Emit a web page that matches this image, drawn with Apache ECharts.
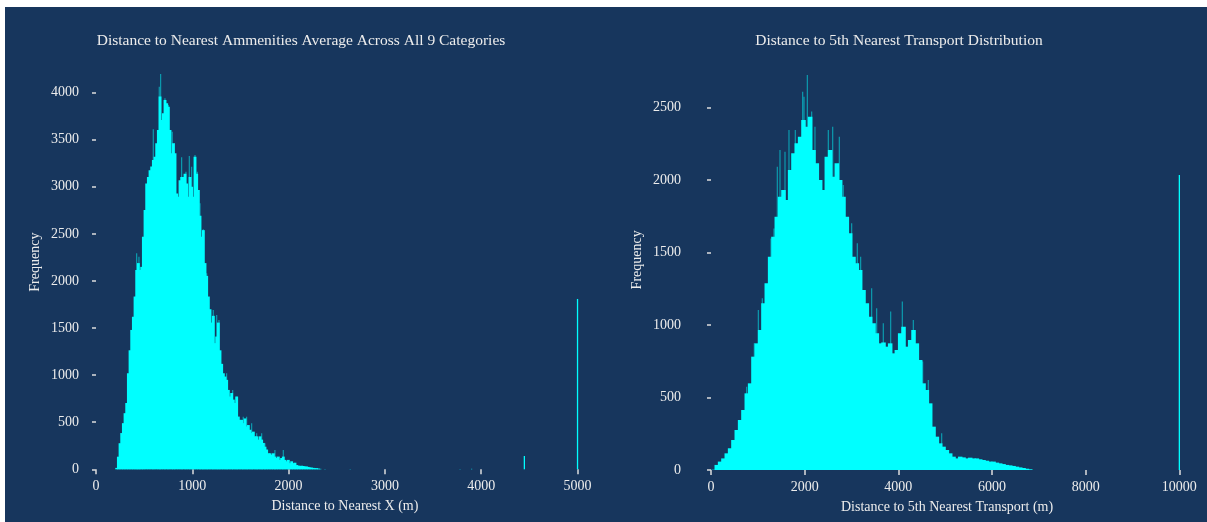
<!DOCTYPE html>
<html><head><meta charset="utf-8">
<script src="https://cdn.jsdelivr.net/npm/echarts@6/dist/echarts.min.js"></script>
<style>html,body{margin:0;padding:0;background:#fff;}#c{width:1207px;height:522px;}</style>
</head><body><div id="c"></div>
<script>
// ---- text ----
const leftTitle = 'Distance to Nearest Ammenities Average Across All 9 Categories';
const rightTitle = 'Distance to 5th Nearest Transport Distribution';
const leftXName = 'Distance to Nearest X (m)';
const rightXName = 'Distance to 5th Nearest Transport (m)';
const yName = 'Frequency';
// ---- ticks ----
const leftXTicks = [0, 1000, 2000, 3000, 4000, 5000];
const leftYTicks = [0, 500, 1000, 1500, 2000, 2500, 3000, 3500, 4000];
const rightXTicks = [0, 2000, 4000, 6000, 8000, 10000];
const rightYTicks = [0, 500, 1000, 1500, 2000, 2500];
// ---- left histogram (bin centers start at leftBinStart, equal width) ----
const leftBinStart = 214;
const leftBinWidth = 17.3;
const leftCounts = [15,134,277,385,490,596,704,1020,1264,1480,1620,1835,2117,2190,2117,2150,2470,2754,3035,3105,
  3176,3215,3284,3320,3462,3604,3958,3710,3781,3922,3887,3851,3604,3356,3462,3356,2930,2895,3070,3105,
  3105,3140,3035,2895,3105,3000,2895,3320,3140,2965,2693,2470,2540,2190,2054,1835,1700,1558,1630,1340,
  1410,1558,1264,1120,1020,985,950,843,773,810,740,704,773,560,525,525,490,540,455,470,
  420,385,400,350,350,315,350,315,280,240,210,170,170,155,170,135,120,135,100,120,
  135,100,85,100,65,85,65,70,45,40,35,38,35,30,30,25,20,18,15,12,12,8,5];
const leftSpikes = [[422,2294],[446,2258],[595,3611],[657,4063],[671,4198],[716,3940],[751,3869],[792,3585],
  [813,3462],[889,3313],[934,3161],[969,3327],[993,3214],[1028,3338],[1052,3161],[1080,2825],[1114,2549],
  [1149,2082],[1218,1692],[1253,1639],[1277,1586],[1356,1020],[1419,842],[1460,771],[1529,559],[1564,559],
  [1616,488],[1668,382],[1720,382],[1754,276],[1858,205],[1945,205]];
const leftOutliers = [[2378,4],[2640,4],[3780,4],[3900,5],[4448,141],[5000,1809]];
// ---- right histogram ----
const rightBinStart = 50;
const rightBinWidth = 71.2;
const rightCounts = [2,35,58,80,115,150,207,276,345,414,529,598,782,874,966,1150,1288,1472,1610,1748,
  1886,1932,1863,2070,2185,2254,2300,2415,2369,2438,2208,2116,2001,1932,2162,2208,2024,2116,2001,1886,
  1748,1633,1472,1426,1380,1242,1150,1058,1012,943,874,880,851,874,805,828,943,989,851,897,
  966,874,759,598,552,460,299,230,184,161,138,115,92,80,92,87,80,85,80,80,
  74,69,64,58,58,51,46,41,35,32,28,23,18,14,9,5];
const rightSpikes = [[761,575],[925,874],[1011,1104],[1096,1185],[1281,1598],[1345,1667],[1416,2093],[1473,2208],
  [1580,2196],[1665,2346],[1800,2346],[1957,2610],[1986,2576],[2057,2725],[2149,2473],[2220,2369],[2505,2346],
  [2598,2369],[2740,2300],[2825,1967],[3003,1702],[3124,1564],[3195,1472],[3430,1254],[3537,1116],[3679,1012],
  [3836,1093],[4085,1162],[4320,1035],[4519,748],[4640,621],[4925,253]];
const rightOutliers = [[10000,2035]];

const CYAN = '#00ffff';
const SPIKE = 'rgba(0,255,255,0.5)';
const TXT = '#ececec';
const FONT = 'Liberation Serif';

function bins(start, w, counts) {
  return counts.map((c, i) => [start + (i - 0.5) * w, start + (i + 0.5) * w, c]);
}
function binItem(params, api) {
  const p0 = api.coord([api.value(0), api.value(2)]);
  const p1 = api.coord([api.value(1), 0]);
  return { type: 'rect', shape: { x: p0[0] - 0.5, y: p0[1], width: Math.max(p1[0] - p0[0], 1) + 1.2, height: p1[1] - p0[1] },
    style: { fill: CYAN } };
}
function lineItem(color, w) {
  return function (params, api) {
    const p = api.coord([api.value(0), api.value(1)]);
    const b = api.coord([api.value(0), 0]);
    return { type: 'rect', shape: { x: p[0] - w / 2, y: p[1], width: w, height: b[1] - p[1] }, style: { fill: color } };
  };
}
const plain = v => String(v);
function xAxis(gi, max, ticks, name) {
  return { gridIndex: gi, type: 'value', min: 0, max: max,
    axisLine: { show: false }, splitLine: { show: false },
    axisTick: { show: true, length: 5, customValues: ticks, lineStyle: { color: '#dddddd', width: 1.5 } },
    axisLabel: { customValues: ticks, formatter: plain, color: TXT, fontFamily: FONT, fontSize: 14, margin: 10 },
    name: name, nameLocation: 'middle', nameGap: 30,
    nameTextStyle: { color: TXT, fontFamily: FONT, fontSize: 14 } };
}
function yAxis(gi, max, ticks, offset) {
  return { gridIndex: gi, type: 'value', min: 0, max: max, offset: offset,
    axisLine: { show: false }, splitLine: { show: false },
    axisTick: { show: true, length: 4, customValues: ticks, lineStyle: { color: '#dddddd', width: 1.5 } },
    axisLabel: { customValues: ticks, formatter: plain, color: TXT, fontFamily: FONT, fontSize: 14, margin: 11 },
    name: yName, nameLocation: 'middle', nameGap: 48,
    nameTextStyle: { color: TXT, fontFamily: FONT, fontSize: 14 } };
}

const chart = echarts.init(document.getElementById('c'), null, { renderer: 'canvas' });
chart.setOption({
  backgroundColor: '#17365d',
  animation: false,
  grid: [
    { left: 96, top: 55, width: 497.9, height: 414.3 },
    { left: 711, top: 49.7, width: 472.1, height: 420.3 }
  ],
  xAxis: [xAxis(0, 5170, leftXTicks, leftXName), xAxis(1, 10080, rightXTicks, rightXName)],
  yAxis: [yAxis(0, 4400, leftYTicks, 6), yAxis(1, 2900, rightYTicks, 19)],
  graphic: [
    { type: 'rect', shape: { x: 0, y: 0, width: 1207, height: 7 }, style: { fill: '#ffffff' } },
    { type: 'rect', shape: { x: 0, y: 0, width: 5, height: 522 }, style: { fill: '#ffffff' } },
    { type: 'text', x: 301, y: 41, style: { text: leftTitle, fill: TXT, font: '15.5px "Liberation Serif"', textAlign: 'center', textVerticalAlign: 'middle' } },
    { type: 'text', x: 899, y: 41, style: { text: rightTitle, fill: TXT, font: '15.5px "Liberation Serif"', textAlign: 'center', textVerticalAlign: 'middle' } }
  ],
  series: [
    { type: 'custom', xAxisIndex: 0, yAxisIndex: 0, z: 1, renderItem: lineItem(SPIKE, 1.2), data: leftSpikes, encode: { x: 0, y: 1 } },
    { type: 'custom', xAxisIndex: 0, yAxisIndex: 0, z: 2, renderItem: binItem, data: bins(leftBinStart, leftBinWidth, leftCounts), encode: { x: [0, 1], y: 2 } },
    { type: 'custom', xAxisIndex: 0, yAxisIndex: 0, z: 2, renderItem: lineItem(CYAN, 1.3), data: leftOutliers, encode: { x: 0, y: 1 } },
    { type: 'custom', xAxisIndex: 1, yAxisIndex: 1, z: 1, renderItem: lineItem(SPIKE, 1.2), data: rightSpikes, encode: { x: 0, y: 1 } },
    { type: 'custom', xAxisIndex: 1, yAxisIndex: 1, z: 2, renderItem: binItem, data: bins(rightBinStart, rightBinWidth, rightCounts), encode: { x: [0, 1], y: 2 } },
    { type: 'custom', xAxisIndex: 1, yAxisIndex: 1, z: 2, renderItem: lineItem(CYAN, 1.3), data: rightOutliers, encode: { x: 0, y: 1 } }
  ]
});
</script></body></html>
